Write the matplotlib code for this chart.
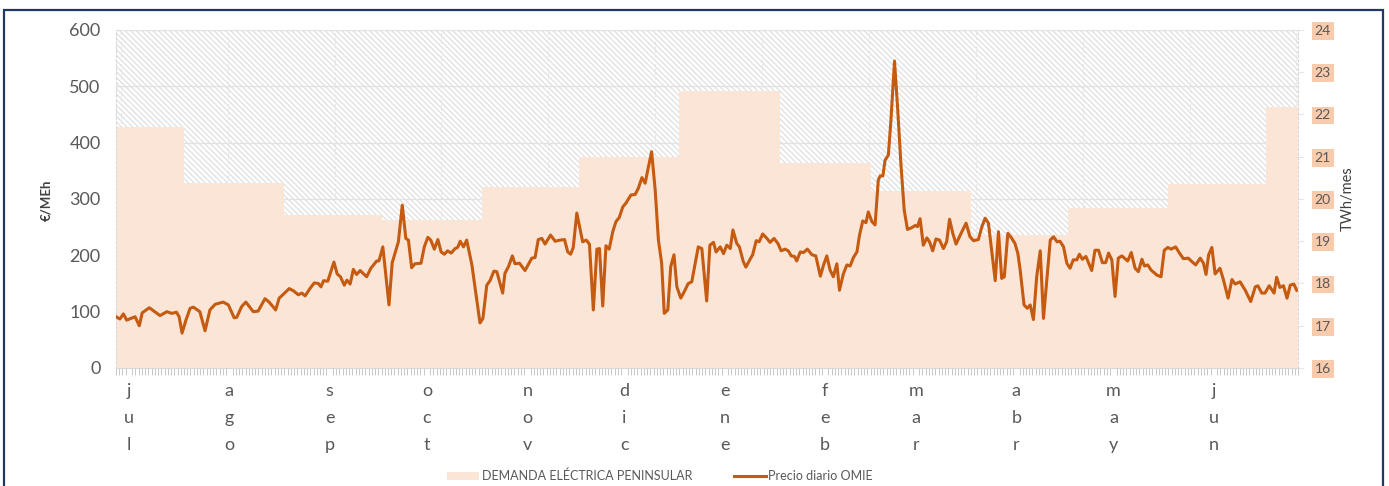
import numpy as np
import matplotlib.pyplot as plt
from matplotlib.patches import Rectangle, Patch
from matplotlib.lines import Line2D

plt.rcParams['font.family'] = ['Lato', 'DejaVu Sans']
plt.rcParams['hatch.color'] = '#dcdcdc'
plt.rcParams['hatch.linewidth'] = 0.8

# eje x: dias desde el 11 de julio (365 dias)
n_days = 365
months = ['jul', 'ago', 'sep', 'oct', 'nov', 'dic', 'ene', 'feb', 'mar', 'abr', 'may', 'jun']
month_mid = [4, 35, 66, 96, 127, 157, 188, 219, 247, 278, 308, 339]
month_start = [0, 21, 52, 82, 113, 143, 174, 205, 233, 264, 294, 325, 355]
demand_twh = [21.70, 20.38, 19.62, 19.50, 20.28, 21.00, 22.56, 20.85, 20.19, 19.15, 19.79, 20.36, 22.18]

price_day = [
    0, 1.2, 2.3, 3.3, 5.9, 7.2, 8.1, 10.3, 13.6, 15.7, 17.2, 18.7, 19.5, 20.4, 21.6, 22.9,
    23.9, 25.9, 27.5, 29.0, 30.6, 33.1, 34.7, 36.5, 37.3, 38.8, 40.1, 42.4, 43.9, 46.0,
    47.3, 49.3, 50.4, 51.7, 53.5, 54.8, 56.3, 57.4, 58.4, 59.9, 61.2, 62.5, 63.3, 64.1,
    65.4, 67.3, 68.3, 69.3, 70.5, 71.3, 72.3, 73.3, 74.3, 75.4, 77.4, 78.7, 80.5, 81.2,
    82.4, 84.3, 85.3, 87.2, 88.4, 89.5, 90.3, 91.3, 92.3, 94.2, 95.2, 96.3, 97.2, 98.3,
    99.4, 100.4, 101.4, 102.4, 103.5, 104.7, 105.5, 106.3, 107.3, 108.3, 109.9, 111.4,
    112.4, 113.3, 114.5, 115.5, 116.7, 117.6, 119.4, 120.1, 121.2, 122.4, 123.2, 124.6,
    126.3, 128.4, 129.4, 130.4, 131.5, 132.5, 134.2, 135.6, 137.1, 138.5, 139.5, 140.4,
    141.2, 142.3, 144.1, 145.2, 146.2, 147.4, 148.5, 149.3, 150.3, 151.3, 152.3, 153.4,
    154.4, 155.4, 156.5, 157.5, 159.0, 160.3, 161.3, 162.4, 163.4, 164.2, 165.4, 166.5,
    167.5, 168.5, 169.3, 170.4, 171.3, 172.3, 173.2, 174.4, 175.7, 176.7, 177.8, 179.8,
    180.9, 182.4, 183.4, 184.5, 185.3, 186.6, 187.6, 188.6, 189.7, 190.5, 191.7, 192.5,
    193.7, 194.5, 195.8, 196.6, 197.7, 198.6, 199.7, 201.0, 202.0, 203.2, 204.4, 205.4,
    206.6, 207.6, 208.5, 209.5, 210.2, 211.3, 212.3, 213.5, 214.9, 216.1, 217.5, 218.5,
    219.5, 220.5, 221.5, 222.6, 223.4, 224.6, 225.7, 226.7, 227.7, 228.8, 229.6, 230.6,
    231.6, 232.3, 233.4, 234.4, 235.4, 236.0, 236.8, 237.5, 238.5, 239.3, 240.4, 241.4,
    242.4, 243.4, 244.4, 245.7, 246.8, 247.5, 248.3, 249.3, 250.4, 251.2, 252.2, 253.2,
    254.3, 255.5, 256.5, 257.4, 258.4, 259.4, 261.2, 262.5, 263.7, 264.8, 266.3, 267.4,
    268.4, 269.4, 270.4, 271.5, 272.5, 273.5, 274.3, 275.4, 276.4, 277.6, 278.5, 279.2,
    280.4, 281.4, 282.3, 283.3, 284.3, 285.4, 286.4, 287.5, 288.5, 289.5, 290.6, 291.5,
    292.6, 293.6, 294.6, 295.6, 296.7, 297.5, 298.4, 299.5, 301.3, 302.3, 303.4, 304.6,
    305.6, 306.5, 307.5, 308.5, 309.5, 310.6, 312.4, 313.5, 314.7, 315.7, 316.8, 317.6,
    318.6, 319.6, 321.4, 322.7, 323.7, 324.8, 325.8, 327.2, 328.4, 329.6, 331.1, 332.2,
    333.4, 334.8, 335.8, 336.6, 337.4, 338.4, 339.4, 340.9, 342.0, 343.4, 344.6, 345.6,
    347.1, 348.7, 350.4, 351.8, 352.6, 353.8, 354.8, 356.1, 357.6, 358.4, 359.4, 360.5,
    361.6, 362.6, 363.7, 364.6,
]
price_eur = [
    91, 87, 96, 85, 91, 75, 98, 107, 93, 100, 97, 99, 91, 62, 85, 106,
    108, 100, 66, 103, 113, 117, 112, 89, 90, 109, 117, 100, 101, 123,
    117, 103, 124, 131, 141, 137, 130, 133, 128, 141, 151, 150, 144, 155,
    154, 188, 167, 162, 147, 156, 149, 175, 166, 173, 162, 177, 190, 190,
    215, 112, 187, 224, 289, 230, 227, 178, 185, 186, 215, 232, 227, 211,
    228, 206, 202, 208, 204, 212, 214, 225, 215, 227, 183, 121,
    80, 88, 147, 155, 172, 171, 133, 168, 180, 199, 185, 186,
    173, 195, 196, 228, 230, 220, 236, 225, 227, 228, 206, 202,
    214, 275, 224, 227, 220, 103, 211, 212, 110, 217, 211, 242,
    260, 267, 286, 293, 307, 308, 319, 338, 328, 351, 384, 316,
    227, 186, 97, 103, 180, 201, 144, 124, 138, 150, 153, 215,
    212, 119, 218, 223, 206, 215, 203, 218, 212, 245, 221, 215,
    189, 179, 193, 201, 226, 224, 238, 230, 223, 230, 221, 208,
    211, 208, 199, 198, 190, 206, 205, 211, 201, 199, 163, 183,
    199, 174, 162, 185, 138, 167, 183, 181, 196, 206, 236, 261,
    258, 277, 260, 254, 334, 341, 341, 369, 378, 440, 545, 458,
    360, 280, 246, 249, 253, 251, 265, 218, 231, 224, 208, 229,
    227, 212, 224, 264, 239, 220, 242, 257, 233, 226, 228, 251,
    266, 257, 209, 155, 242, 159, 162, 239, 232, 221, 203, 174,
    112, 106, 112, 86, 162, 208, 88, 162, 227, 233, 224, 225,
    215, 186, 177, 192, 192, 202, 193, 198, 173, 209, 209, 187,
    187, 204, 192, 127, 195, 199, 190, 205, 177, 171, 193, 181,
    183, 174, 165, 162, 209, 214, 211, 215, 204, 194, 195, 189,
    183, 195, 186, 166, 201, 214, 167, 177, 156, 124, 157, 149,
    153, 138, 118, 144, 146, 133, 133, 146, 133, 161, 143, 146,
    124, 147, 149, 138,
]

fig = plt.figure(figsize=(13.89, 4.86), dpi=100)
ax = fig.add_axes([0.0835, 0.2428, 0.851, 0.6955])
axd = ax.twinx()
ax.set_zorder(2)
axd.set_zorder(1)
ax.patch.set_visible(False)

# fondo rayado y demanda mensual (eje derecho)
axd.fill_between([0, n_days], 16, 24, facecolor='white', edgecolor='#dcdcdc',
                 hatch='\\\\\\\\\\\\', linewidth=0, zorder=1)
price_ticks = list(range(0, 601, 100))
axd.hlines(price_ticks, 0, 1, transform=ax.get_yaxis_transform(),
           colors='#e2e2e2', linewidth=1.0, zorder=1.5)
axd.vlines(np.arange(1.5, n_days + 1, 33), 16, 24, colors='#e6e6e6',
           linestyles=(0, (2, 2)), linewidth=0.8, zorder=1.5)
edges = month_start + [n_days]
axd.fill_between(edges, 16, demand_twh + [demand_twh[-1]], step='post',
                 color='#FBE5D6', linewidth=0, zorder=2)

ax.plot(price_day, price_eur, color='#C55A11', linewidth=2.2, zorder=3)

ax.set_xlim(0, n_days)
ax.set_ylim(0, 600)
axd.set_ylim(16, 24)

ax.set_yticks(price_ticks)
ax.tick_params(axis='y', length=0, labelsize=13, labelcolor='#595959', pad=11)
axd.set_yticks(range(16, 25))
axd.tick_params(axis='y', length=4, color='#e6e6e6', labelsize=10,
                labelcolor='#595959', pad=8)
for lab in axd.get_yticklabels():
    lab.set_bbox(dict(facecolor='#F8CBAD', edgecolor='none', pad=2))

ax.set_xticks(month_mid)
ax.set_xticklabels(['\n'.join(m) for m in months])
for lab in ax.get_xticklabels():
    lab.set_linespacing(1.85)
ax.tick_params(axis='x', which='major', length=0, labelsize=13,
               labelcolor='#595959', pad=11)
ax.set_xticks(np.arange(0, n_days + 1), minor=True)
ax.tick_params(axis='x', which='minor', length=5, width=0.7, color='#c8c8c8')

ax.spines['top'].set_visible(False)
for side in ['left', 'right']:
    ax.spines[side].set_color('#d9d9d9')
    ax.spines[side].set_linestyle((0, (2, 2)))
ax.spines['bottom'].set_color('#d9d9d9')
for s in axd.spines.values():
    s.set_visible(False)

fig.text(46 / 1389, 1 - 200 / 486, '€/MEh', rotation=90, ha='center', va='center',
         fontsize=9.5, fontweight='bold', color='#404040')
fig.text(1348 / 1389, 1 - 199 / 486, 'TWh/mes', rotation=90, ha='center', va='center',
         fontsize=10.5, color='#404040')

handles = [Patch(facecolor='#FBE5D6', edgecolor='none', label='DEMANDA ELÉCTRICA PENINSULAR'),
           Line2D([], [], color='#C55A11', linewidth=2.2, label='Precio diario OMIE')]
leg = fig.legend(handles=handles, loc='center', bbox_to_anchor=(660 / 1389, 1 - 476 / 486),
                 ncol=2, frameon=False, fontsize=9, handlelength=2.6,
                 handletextpad=0.2, columnspacing=3.3)
for t in leg.get_texts():
    t.set_color('#595959')

fig.patches.append(Rectangle((4 / 1389, -0.02), 1379 / 1389, 1.02 - 10 / 486,
                             transform=fig.transFigure, fill=False,
                             edgecolor='#1F3864', linewidth=1.6))

fig.savefig('out.png', dpi=100)
